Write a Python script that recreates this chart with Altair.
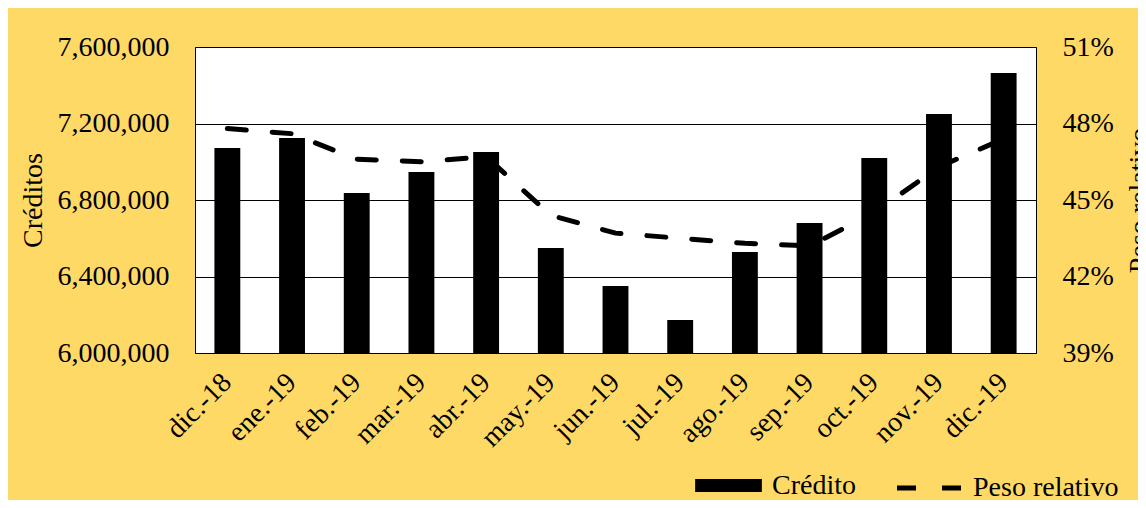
import altair as alt
import pandas as pd

meses = ["dic.-18", "ene.-19", "feb.-19", "mar.-19", "abr.-19", "may.-19", "jun.-19",
         "jul.-19", "ago.-19", "sep.-19", "oct.-19", "nov.-19", "dic.-19"]
credito = [7072000, 7124000, 6837000, 6946000, 7051000, 6549000, 6350000,
           6173000, 6528000, 6680000, 7020000, 7250000, 7464000]
peso = [0.478, 0.476, 0.466, 0.465, 0.467, 0.444, 0.437,
        0.435, 0.433, 0.432, 0.445, 0.463, 0.474]

left_ticks = [6000000, 6400000, 6800000, 7200000, 7600000]
right_ticks = [0.39, 0.42, 0.45, 0.48, 0.51]
series = ["Crédito", "Peso relativo"]

df = pd.DataFrame({"mes": meses, "credito": credito, "peso": peso,
                   "s_bar": series[0], "s_line": series[1]})

FONT = "Liberation Serif"
FS = 28

x = alt.X("mes:N", sort=meses, title=None,
          scale=alt.Scale(paddingInner=0.6, paddingOuter=0.3),
          axis=alt.Axis(labelAngle=315, labelAlign="right", labelBaseline="middle",
                        labelPadding=25, ticks=False, domain=False))

bar_legend = alt.Legend(
    title=None, orient="none", legendX=498, legendY=403, direction="horizontal",
    symbolSize=5041, symbolType="M-0.94,-0.18H0.94V0.18H-0.94Z",
    symbolFillColor="black", symbolStrokeWidth=0, symbolOpacity=1,
    labelOffset=8, labelFont=FONT, labelFontSize=FS, labelColor="black",
)

line_legend = alt.Legend(
    title=None, orient="none", legendX=694, legendY=403, direction="horizontal",
    symbolSize=5041, symbolType="stroke", symbolStrokeColor="black",
    symbolStrokeWidth=5, symbolDashOffset=39.5, symbolOpacity=1,
    labelOffset=8, labelFont=FONT, labelFontSize=FS, labelColor="black",
    labelLimit=300,
)

bars = alt.Chart(df).mark_bar(color="black", clip=True).encode(
    x=x,
    y=alt.Y("credito:Q", title="Créditos",
            scale=alt.Scale(domain=[6000000, 7600000], nice=False, zero=False),
            axis=alt.Axis(values=left_ticks, format=",.0f", ticks=False, domain=False,
                          grid=True, gridColor="black", gridWidth=1, gridOpacity=1,
                          labelPadding=26, titlePadding=10)),
    color=alt.Color("s_bar:N", scale=alt.Scale(range=["black"]), legend=bar_legend),
)

line = alt.Chart(df).mark_line(color="black", strokeWidth=5, strokeCap="round").encode(
    x=x,
    y=alt.Y("peso:Q", title="Peso relativo",
            scale=alt.Scale(domain=[0.39, 0.51], nice=False, zero=False),
            axis=alt.Axis(orient="right", values=right_ticks, format=".0%", ticks=False,
                          domain=False, grid=False, labelPadding=26, titlePadding=12,
                          titleAngle=270, titleBaseline="top")),
    strokeDash=alt.StrokeDash("s_line:N", scale=alt.Scale(range=[[19, 26]]),
                              legend=line_legend),
)

chart = alt.layer(bars, line).resolve_scale(y="independent").properties(
    width=841, height=306,
    autosize=alt.AutoSizeParams(type="none"),
    padding={"left": 187, "top": 39, "right": 102, "bottom": 147},
    background="#FFD966",
).configure_view(
    fill="white", stroke="black", strokeWidth=1
).configure_axis(
    labelFont=FONT, labelFontSize=FS, labelColor="black",
    titleFont=FONT, titleFontSize=FS, titleColor="black", titleFontWeight="normal",
)

chart.save("out.html", embed_options={"renderer": "svg", "actions": False})
